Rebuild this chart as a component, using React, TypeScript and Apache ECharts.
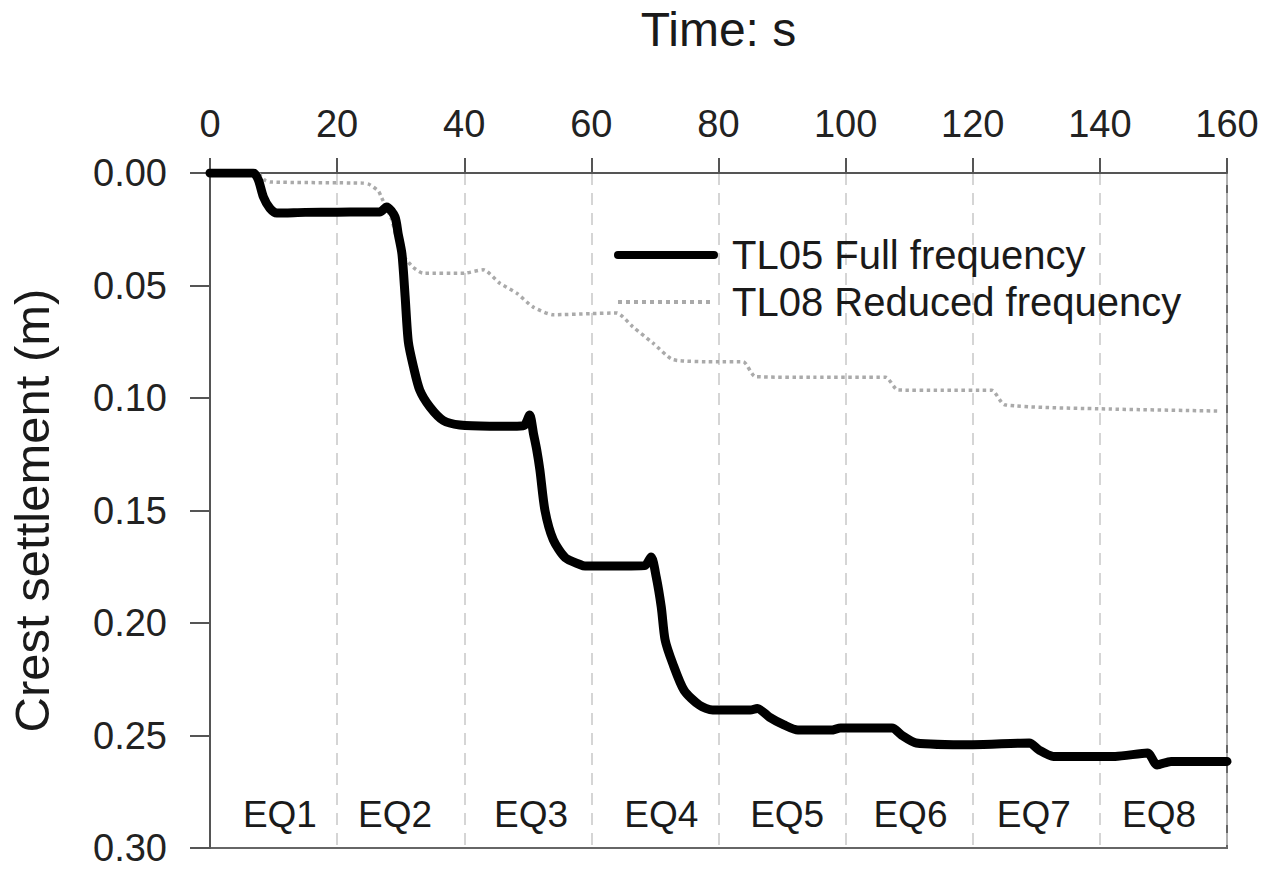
import React, { useEffect, useRef } from "react";
import * as echarts from "echarts";

// TL05 Full frequency: time (s) and crest settlement (m)
const tl05Time = [0, 6.8, 7.6, 8.4, 9.4, 10.5, 15, 20, 26.7, 27.8, 29.1, 29.6, 30.2, 30.7, 31.2, 32, 33, 34.6, 36.7, 39.3, 44, 48.3, 49.5, 50.3, 50.9, 51.4, 51.9, 52.7, 54, 55.9, 58.2, 59, 64, 68.4, 69.4, 70.2, 71, 71.6, 72.8, 74.6, 77, 79.1, 85, 86.1, 88, 90.3, 92.5, 97.7, 99.2, 107.3, 108.8, 111.1, 120, 128.9, 130.4, 132.7, 142.4, 147.5, 149, 151.2, 160];
const tl05Settle = [0, 0, 0.003, 0.0106, 0.0156, 0.0178, 0.0175, 0.0174, 0.0173, 0.0151, 0.0195, 0.027, 0.036, 0.055, 0.075, 0.086, 0.0965, 0.104, 0.11, 0.112, 0.1125, 0.1125, 0.112, 0.1076, 0.116, 0.123, 0.132, 0.15, 0.163, 0.171, 0.174, 0.1747, 0.1747, 0.1745, 0.1707, 0.1795, 0.193, 0.2075, 0.218, 0.23, 0.2365, 0.2387, 0.2387, 0.238, 0.2418, 0.2453, 0.2476, 0.2476, 0.2467, 0.2467, 0.2498, 0.2533, 0.2541, 0.2533, 0.2564, 0.2593, 0.2593, 0.2578, 0.2631, 0.2615, 0.2615];

// TL08 Reduced frequency
const tl08Time = [0, 7.5, 8.5, 9.5, 24, 25, 26.5, 27, 28.5, 29.5, 30.5, 32, 33.5, 40, 43, 45.6, 48.3, 50.8, 54, 60, 64, 66.5, 69.7, 72.9, 80, 83.9, 85.8, 95, 106.3, 108.2, 115, 123, 125, 141.6, 159];
const tl08Settle = [0, 0, 0.003, 0.004, 0.0045, 0.005, 0.008, 0.011, 0.02, 0.03, 0.037, 0.042, 0.0445, 0.0445, 0.043, 0.049, 0.0535, 0.0595, 0.063, 0.0625, 0.0622, 0.0683, 0.0756, 0.083, 0.0839, 0.0839, 0.0905, 0.0908, 0.0908, 0.0964, 0.0966, 0.0966, 0.103, 0.1049, 0.1058];

// Earthquake event labels
const eqNames = ["EQ1", "EQ2", "EQ3", "EQ4", "EQ5", "EQ6", "EQ7", "EQ8"];
const eqTimes = [11, 29.1, 50.5, 71, 90.8, 110.2, 129.6, 149.3];
const eqLabelLevel = 0.2853;

const seriesNames = ["TL05 Full frequency", "TL08 Reduced frequency"];

const FONT = "'Liberation Sans', Arial, Helvetica, sans-serif";

export default function App() {
  const ref = useRef<HTMLDivElement>(null);

  useEffect(() => {
    if (!ref.current) return;
    const chart = echarts.init(ref.current, undefined, { renderer: "svg" });
    const tl05 = tl05Time.map((t, i) => [t, tl05Settle[i]]);
    const tl08 = tl08Time.map((t, i) => [t, tl08Settle[i]]);
    const eq = eqNames.map((n, i) => ({ name: n, value: [eqTimes[i], eqLabelLevel] }));

    chart.setOption({
      animation: false,
      backgroundColor: "#ffffff",
      textStyle: { fontFamily: FONT },
      grid: {
        left: 210,
        right: 42,
        top: 173,
        bottom: 21,
        containLabel: false,
        outerBoundsMode: "none",
        show: true,
        borderColor: "#666",
        borderWidth: 2,
        backgroundColor: "transparent",
      },
      legend: {
        data: [
          { name: seriesNames[0], lineStyle: { width: 8 } },
          { name: seriesNames[1], lineStyle: { width: 4 } },
        ],
        orient: "vertical",
        left: 614,
        top: 235,
        padding: 0,
        itemWidth: 96,
        itemHeight: 40,
        itemGap: 7,
        itemStyle: { opacity: 0 },
        textStyle: {
          fontFamily: FONT,
          fontSize: 40,
          color: "#1a1a1a",
          lineHeight: 40,
          padding: [0, 0, 0, 13],
        },
      },
      xAxis: {
        type: "value",
        position: "top",
        min: 0,
        max: 160,
        interval: 20,
        name: "Time: s",
        nameLocation: "middle",
        nameGap: 120,
        nameTextStyle: { fontFamily: FONT, fontSize: 48, color: "#1a1a1a" },
        axisLine: { show: true, onZero: false, lineStyle: { color: "#555", width: 2 } },
        axisTick: { show: true, inside: false, length: 15, lineStyle: { color: "#555", width: 2 } },
        axisLabel: { fontFamily: FONT, fontSize: 38, color: "#222", margin: 30 },
        splitLine: { show: true, lineStyle: { color: "#c8c8c8", width: 1.5, type: [12, 8] } },
      },
      yAxis: {
        type: "value",
        inverse: true,
        min: 0,
        max: 0.3,
        interval: 0.05,
        name: "Crest settlement (m)",
        nameLocation: "middle",
        nameGap: 154,
        nameTextStyle: { fontFamily: FONT, fontSize: 49, color: "#1a1a1a" },
        axisLine: { show: true, onZero: false, lineStyle: { color: "#555", width: 2 } },
        axisTick: { show: true, inside: false, length: 20, lineStyle: { color: "#555", width: 2 } },
        axisLabel: {
          fontFamily: FONT,
          fontSize: 38,
          color: "#222",
          margin: 43,
          formatter: (v: number) => v.toFixed(2),
        },
        splitLine: { show: false },
      },
      series: [
        {
          name: seriesNames[1],
          type: "line",
          data: tl08,
          symbol: "none",
          smooth: 0.2,
          z: 2,
          lineStyle: { color: "#aaaaaa", width: 3.5, type: "dotted" },
          itemStyle: { color: "#aaaaaa" },
        },
        {
          name: seriesNames[0],
          type: "line",
          data: tl05,
          symbol: "none",
          smooth: 0.25,
          z: 3,
          lineStyle: { color: "#000000", width: 9, join: "round", cap: "round" },
          itemStyle: { color: "#000000" },
        },
        {
          name: "events",
          type: "scatter",
          data: eq,
          symbolSize: 0,
          silent: true,
          z: 4,
          itemStyle: { opacity: 1 },
          label: {
            show: true,
            position: "inside",
            formatter: "{b}",
            fontFamily: FONT,
            fontSize: 37,
            color: "#1a1a1a",
            opacity: 1,
          },
        },
      ],
    });

    return () => {
      chart.dispose();
    };
  }, []);

  return (
    <div
      ref={ref}
      style={{ position: "fixed", left: 0, top: 0, width: 1269, height: 869, background: "#fff" }}
    />
  );
}
